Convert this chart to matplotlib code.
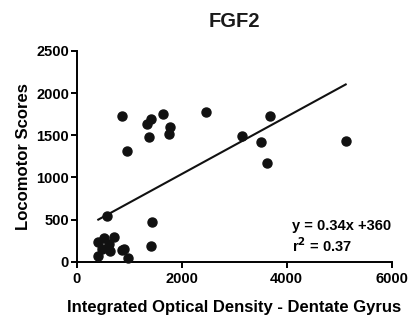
import numpy as np
import matplotlib
matplotlib.use("Agg")
import matplotlib.pyplot as plt

plt.rcParams['font.family'] = ['Liberation Sans', 'DejaVu Sans']
plt.rcParams['font.weight'] = 'bold'

# integrated optical density vs locomotor score
iod = [857, 964, 1334, 1415, 1383, 1650, 1777, 1764, 2457, 3143, 3511, 3682, 3631, 5124,
       571, 1429, 1410, 526, 717, 411, 621, 476, 634, 411, 857, 902, 983]
loco = [1723, 1315, 1628, 1692, 1478, 1755, 1592, 1513, 1770, 1493, 1418, 1723, 1169, 1434,
        543, 472, 190, 285, 297, 238, 207, 155, 131, 68, 139, 151, 48]

slope = 0.34
intercept = 360

fig = plt.figure(figsize=(4.08, 3.22), dpi=100)
ax = fig.add_axes([0.188, 0.187, 0.772, 0.655])

ax.plot(iod, loco, 'o', color='#111111', markersize=6.5, clip_on=False, zorder=3)
xl = np.array([min(iod), max(iod)])
ax.plot(xl, slope * xl + intercept, '-', color='#111111', lw=1.5)

ax.set_xlim(0, 6000)
ax.set_ylim(0, 2500)
ax.set_xticks([0, 2000, 4000, 6000])
ax.set_yticks([0, 500, 1000, 1500, 2000, 2500])
for s in ['top', 'right']:
    ax.spines[s].set_visible(False)
for s in ['left', 'bottom']:
    ax.spines[s].set_linewidth(1.4)
ax.tick_params(width=1.4, length=4.5, labelsize=10.5)
ax.tick_params(axis='x', pad=3)
ax.tick_params(axis='y', pad=1)

ax.set_xlabel('Integrated Optical Density - Dentate Gyrus', fontsize=12, fontweight='bold', labelpad=10)
ax.set_ylabel('Locomotor Scores', fontsize=12, fontweight='bold', labelpad=4)
ax.set_title('FGF2', fontsize=14.5, fontweight='bold', pad=17, color='#1a1a1a')

ax.text(4096, 375, 'y = 0.34x +360', fontsize=10.5, fontweight='bold')
ax.text(4096, 115, r'r$^{\mathbf{2}}$ = 0.37', fontsize=10.5, fontweight='bold')

fig.savefig('out.png', dpi=100)
